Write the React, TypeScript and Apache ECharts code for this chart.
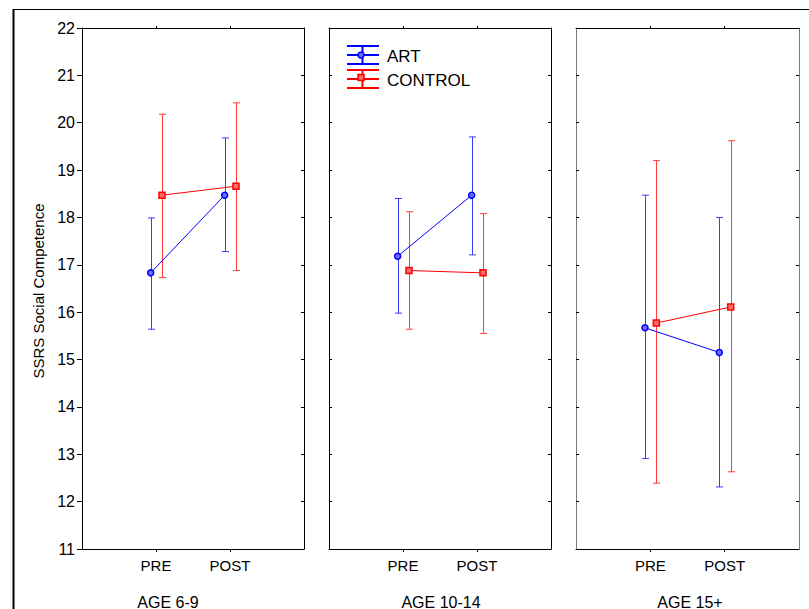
import React, { useEffect, useRef } from "react";
import * as echarts from "echarts";

const TIMES = ["PRE", "POST"];
const PANELS = ["AGE 6-9", "AGE 10-14", "AGE 15+"];
const GROUPS = ["ART", "CONTROL"];
const Y_MIN = 11;
const Y_MAX = 22;
const Y_TITLE = "SSRS Social Competence";

// means, lower and upper limits per panel, [PRE, POST]
const ART_MEAN = [[16.83, 18.47], [17.18, 18.47], [15.67, 15.15]];
const ART_LOW = [[15.64, 17.28], [15.98, 17.21], [12.91, 12.31]];
const ART_HIGH = [[17.99, 19.68], [18.4, 19.7], [18.47, 18.0]];
const CONTROL_MEAN = [[18.47, 18.66], [16.88, 16.83], [15.77, 16.11]];
const CONTROL_LOW = [[16.73, 16.88], [15.64, 15.55], [12.39, 12.63]];
const CONTROL_HIGH = [[20.18, 20.42], [18.12, 18.08], [19.2, 19.62]];

const FONT = 'Arial, "Liberation Sans", sans-serif';
const GRID_LEFT = [82, 329, 576];
const GRID_W = [222, 222, 223];
const GRID_TOP = 28;
const GRID_H = 521;
const DODGE = [-0.072, 0.081];
const LINE_COLOR = ["#0000ff", "#ff0000"];
const BAR_COLOR = ["#3a3aff", "#ff3d3d"];
const FILL_COLOR = ["#6a6aff", "#ff6a6a"];
const SYMBOL = ["circle", "rect"];

export default function App() {
  const ref = useRef<HTMLDivElement>(null);
  useEffect(() => {
    if (!ref.current) return;
    const chart = echarts.init(ref.current, null, { renderer: "svg" });
    const grids: any[] = [];
    const xAxes: any[] = [];
    const yAxes: any[] = [];
    const series: any[] = [];
    const groupData = [
      { mean: ART_MEAN, low: ART_LOW, high: ART_HIGH },
      { mean: CONTROL_MEAN, low: CONTROL_LOW, high: CONTROL_HIGH },
    ];
    PANELS.forEach((p, i) => {
      grids.push({ left: GRID_LEFT[i], top: GRID_TOP, width: GRID_W[i], height: GRID_H });
      const sideColor = i === 2 ? "#7a7a7a" : "#000";
      xAxes.push({
        gridIndex: i, type: "value", min: 0, max: TIMES.length + 1, position: "bottom",
        axisLine: { show: true, onZero: false, lineStyle: { color: "#000", width: 1 } },
        axisTick: { show: true, customValues: TIMES.map((t, k) => k + 1), length: 3, inside: false, lineStyle: { color: "#000" } },
        axisLabel: {
          show: true, customValues: TIMES.map((t, k) => k + 1),
          formatter: (v: number) => TIMES[Math.round(v) - 1] || "",
          fontSize: 15, color: "#000", fontFamily: FONT, margin: 9,
        },
        splitLine: { show: false },
      });
      xAxes.push({
        gridIndex: i, type: "value", min: 0, max: TIMES.length + 1, position: "top",
        axisLine: { show: true, onZero: false, lineStyle: { color: "#000", width: 1 } },
        axisTick: { show: true, customValues: TIMES.map((t, k) => k + 1), length: 2, inside: false, lineStyle: { color: "#000" } },
        axisLabel: { show: false },
        splitLine: { show: false },
      });
      yAxes.push({
        gridIndex: i, type: "value", min: Y_MIN, max: Y_MAX, interval: 1, position: "left",
        axisLine: { show: true, onZero: false, lineStyle: { color: sideColor, width: 1 } },
        axisTick: { show: true, inside: i > 0, length: i === 0 ? 5 : 3, lineStyle: { color: "#000" } },
        axisLabel: { show: i === 0, fontSize: 16, color: "#000", fontFamily: FONT, margin: 7 },
        splitLine: { show: false },
      });
      yAxes.push({
        gridIndex: i, type: "value", min: Y_MIN, max: Y_MAX, interval: 1, position: "right",
        axisLine: { show: true, onZero: false, lineStyle: { color: sideColor, width: 1 } },
        axisTick: { show: true, inside: true, length: 3, lineStyle: { color: "#000" } },
        axisLabel: { show: false },
        splitLine: { show: false },
      });
      GROUPS.forEach((g, gi) => {
        const d = groupData[gi];
        series.push({
          type: "custom",
          name: g,
          xAxisIndex: 2 * i,
          yAxisIndex: 2 * i,
          clip: false,
          z: 2,
          data: TIMES.map((t, k) => [k + 1 + DODGE[gi], d.low[i][k], d.high[i][k]]),
          encode: { x: 0, y: [1, 2] },
          renderItem: (params: any, api: any) => {
            const lo = api.coord([api.value(0), api.value(1)]);
            const hi = api.coord([api.value(0), api.value(2)]);
            const x = Math.round(lo[0]) + 0.5;
            const half = 3.5;
            const st = { stroke: BAR_COLOR[gi], lineWidth: 1 };
            return {
              type: "group",
              children: [
                { type: "line", shape: { x1: x, y1: lo[1], x2: x, y2: hi[1] }, style: st },
                { type: "line", shape: { x1: x - half, y1: lo[1], x2: x + half, y2: lo[1] }, style: st },
                { type: "line", shape: { x1: x - half, y1: hi[1], x2: x + half, y2: hi[1] }, style: st },
              ],
            };
          },
        });
        series.push({
          type: "line",
          name: g,
          xAxisIndex: 2 * i,
          yAxisIndex: 2 * i,
          z: 3,
          data: TIMES.map((t, k) => [k + 1 + DODGE[gi], d.mean[i][k]]),
          symbol: SYMBOL[gi],
          symbolSize: 6,
          showSymbol: true,
          lineStyle: { color: LINE_COLOR[gi], width: 1 },
          itemStyle: { color: FILL_COLOR[gi], borderColor: LINE_COLOR[gi], borderWidth: 1.5 },
        });
      });
    });

    const textStyle = (text: string, size: number) => ({
      text, fontSize: size, fontFamily: FONT, fill: "#000",
      align: "center", verticalAlign: "middle", textAlign: "center", textVerticalAlign: "middle",
    });
    const ageX = [168, 441, 690];
    const graphics: any[] = [
      { type: "line", shape: { x1: 13, y1: 9.5, x2: 809, y2: 9.5 }, style: { stroke: "#000", lineWidth: 1 } },
      { type: "line", shape: { x1: 13.5, y1: 9, x2: 13.5, y2: 609 }, style: { stroke: "#000", lineWidth: 2 } },
      { type: "text", x: 38.5, y: 291, rotation: Math.PI / 2, style: textStyle(Y_TITLE, 15) },
      ...PANELS.map((p, i) => ({ type: "text", x: ageX[i], y: 602, style: textStyle(p, 16) })),
    ];
    // legend
    const legY = [55, 79];
    GROUPS.forEach((g, gi) => {
      const cy = legY[gi];
      const st = { stroke: LINE_COLOR[gi], lineWidth: 2 };
      graphics.push(
        { type: "line", shape: { x1: 347, y1: cy - 9, x2: 379, y2: cy - 9 }, style: st },
        { type: "line", shape: { x1: 347, y1: cy, x2: 379, y2: cy }, style: st },
        { type: "line", shape: { x1: 347, y1: cy + 9, x2: 379, y2: cy + 9 }, style: st },
        { type: "line", shape: { x1: 362.5, y1: cy - 9, x2: 362.5, y2: cy + 9 }, style: st },
      );
      if (gi === 0) {
        graphics.push({ type: "circle", shape: { cx: 361, cy: cy, r: 3 }, style: { fill: FILL_COLOR[gi], stroke: LINE_COLOR[gi], lineWidth: 1.5 } });
      } else {
        graphics.push({ type: "rect", shape: { x: 358, y: cy - 4.5, width: 6, height: 6 }, style: { fill: FILL_COLOR[gi], stroke: LINE_COLOR[gi], lineWidth: 1.5 } });
      }
      graphics.push({
        type: "text", x: 387, y: cy + 1.5,
        style: { text: g, fontSize: 17, fontFamily: FONT, fill: "#000", align: "left", verticalAlign: "middle", textAlign: "left", textVerticalAlign: "middle" },
      });
    });

    chart.setOption({
      animation: false,
      backgroundColor: "#fff",
      grid: grids,
      xAxis: xAxes,
      yAxis: yAxes,
      series,
      graphic: graphics,
    });
    return () => chart.dispose();
  }, []);
  return <div ref={ref} style={{ position: "fixed", left: 0, top: 0, width: 809, height: 609, background: "#fff" }} />;
}
